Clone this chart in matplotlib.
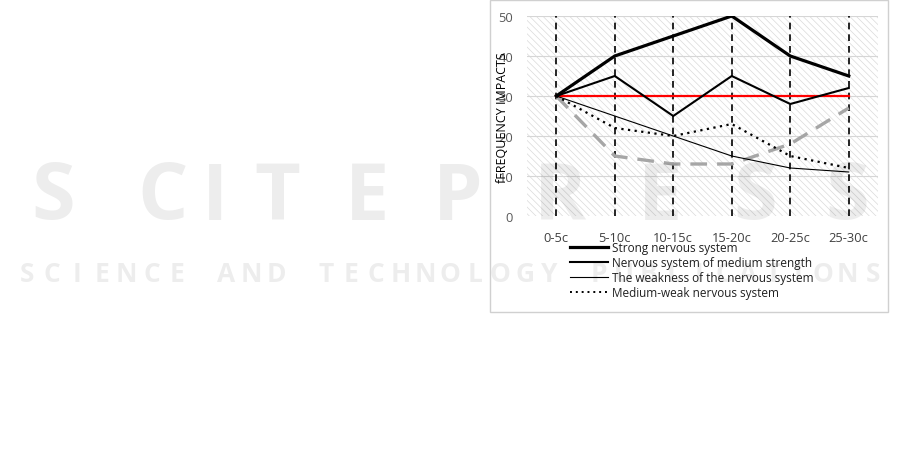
import matplotlib
matplotlib.use("Agg")
import matplotlib.pyplot as plt
from matplotlib.patches import Rectangle
from matplotlib.lines import Line2D

categories = ["0-5c", "5-10c", "10-15c", "15-20c", "20-25c", "25-30c"]
strong = [30, 40, 45, 50, 40, 35]
medium = [30, 35, 25, 35, 28, 32]
weak = [30, 25, 20, 15, 12, 11]
medium_weak = [30, 22, 20, 23, 15, 12]
gray_series = [30, 15, 13, 13, 18, 27]
reference = [30, 30, 30, 30, 30, 30]
y_ticks = [0, 10, 20, 30, 40, 50]
legend_labels = ["Strong nervous system", "Nervous system of medium strength",
                 "The weakness of the nervous system", "Medium-weak nervous system"]
y_label = "fFREQUENCY IMPACTS"
watermark_big = "SCITEPRESS"
watermark_small = "SCIENCE AND TECHNOLOGY PUBLICATIONS"

plt.rcParams['font.family'] = ['Open Sans', 'DejaVu Sans']
plt.rcParams['hatch.linewidth'] = 0.5

W, H = 901, 460
fig = plt.figure(figsize=(W / 100, H / 100), dpi=100)

# outer frame of chart
fig.patches.append(Rectangle((490 / W, 1 - 313 / H), 398 / W, 312 / H,
                             transform=fig.transFigure, facecolor='white',
                             edgecolor='#d0d0d0', lw=1.0, zorder=-5))

ax = fig.add_axes([527 / W, 1 - 217 / H, 351 / W, 200 / H])
ax.set_zorder(1)
ax.set_xlim(-0.5, 5.5)
ax.set_ylim(0, 50)
for s in ax.spines.values():
    s.set_visible(False)
ax.patch.set_alpha(0)
ax.add_patch(Rectangle((0, 0), 1, 1, transform=ax.transAxes, facecolor='white',
                       edgecolor='#dadada', hatch='\\\\\\\\\\', lw=0, zorder=0))
for v in y_ticks[1:]:
    ax.axhline(v, color='#d6d6d6', lw=0.8, zorder=1)

x = list(range(len(categories)))
for xi in x:
    ax.axvline(xi, color='black', lw=1.2, ls=(0, (4, 3)), zorder=2)

ax.plot(x, gray_series, color='#a6a6a6', lw=2.4, ls=(0, (5, 3)), zorder=3)
ax.plot(x, reference, color='#ff0000', lw=1.6, zorder=4)
ax.plot(x, strong, color='black', lw=2.3, zorder=5)
ax.plot(x, medium, color='black', lw=1.5, zorder=5)
ax.plot(x, weak, color='black', lw=0.8, zorder=5)
ax.plot(x, medium_weak, color='black', lw=1.6, ls=(0, (1, 2)), zorder=5)

ax.set_xticks(x)
ax.set_xticklabels(categories, fontsize=9.3, color='#404040')
ax.set_yticks(y_ticks)
ax.set_yticklabels([str(v) for v in y_ticks], fontsize=9.3, color='#595959')
ax.tick_params(length=0)
ax.tick_params(axis='y', pad=10)
ax.tick_params(axis='x', pad=11)

fig.text(503 / W, 1 - 118 / H, y_label, rotation=90, ha='center', va='center',
         fontsize=9, color='black', zorder=10)

handles = [Line2D([], [], color='black', lw=2.3),
           Line2D([], [], color='black', lw=1.5),
           Line2D([], [], color='black', lw=0.8),
           Line2D([], [], color='black', lw=1.4, ls=(0, (1, 2)))]
fig.legend(handles, legend_labels, loc='upper left',
           bbox_to_anchor=(570 / W, 1 - 242 / H), frameon=False,
           fontsize=8.5, handlelength=3.2, handletextpad=0.4,
           labelspacing=0.18, borderpad=0, borderaxespad=0,
           labelcolor='#202020')

# faint watermark, letters spread like the reference
big_centers = [53, 163, 215, 277, 367, 458, 560, 660, 755, 847]
for ch, cx in zip(watermark_big, big_centers):
    fig.text(cx / W, 1 - 199 / H, ch, ha='center', va='center', fontsize=57,
             fontweight='bold', color='black', alpha=0.07, zorder=20)
n = len(watermark_small)
step = (885 - 15) / n
for i, ch in enumerate(watermark_small):
    if ch == ' ':
        continue
    fig.text((15 + step * (i + 0.5)) / W, 1 - 275 / H, ch, ha='center',
             va='center', fontsize=19, fontweight='bold', color='black',
             alpha=0.07, zorder=20)

fig.savefig("out.png", dpi=100)
